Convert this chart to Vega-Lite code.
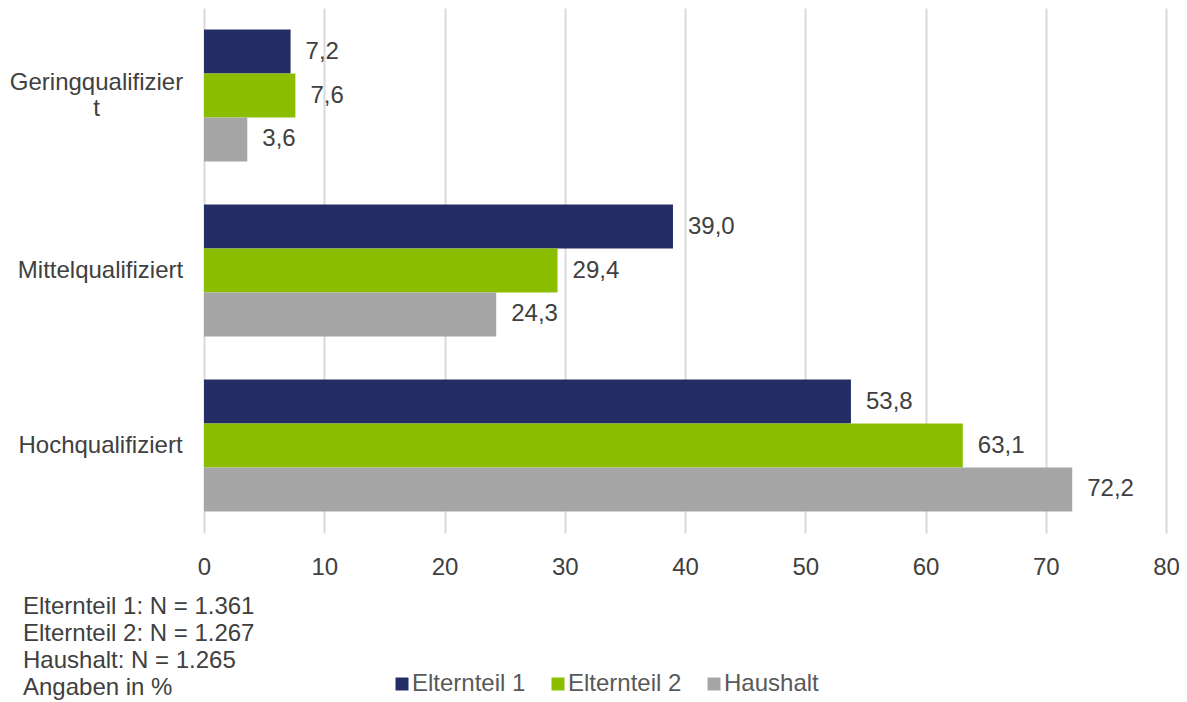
{
  "$schema": "https://vega.github.io/schema/vega-lite/v6.json",
  "width": 962,
  "height": 525,
  "autosize": {"type": "none"},
  "padding": {"left": 204, "top": 8, "right": 21, "bottom": 169},
  "background": "white",
  "title": {
    "text": ["Elternteil 1: N = 1.361", "Elternteil 2: N = 1.267", "Haushalt: N = 1.265", "Angaben in %"],
    "orient": "bottom",
    "anchor": "start",
    "frame": "group",
    "dx": -181,
    "offset": -101,
    "font": "Liberation Sans",
    "fontSize": 24,
    "fontWeight": "normal",
    "color": "#404040",
    "lineHeight": 27,
    "baseline": "top"
  },
  "data": {
    "values": [
      {"Qualifikation": "Geringqualifiziert", "Gruppe": "Elternteil 1", "Anteil": 7.2},
      {"Qualifikation": "Geringqualifiziert", "Gruppe": "Elternteil 2", "Anteil": 7.6},
      {"Qualifikation": "Geringqualifiziert", "Gruppe": "Haushalt", "Anteil": 3.6},
      {"Qualifikation": "Mittelqualifiziert", "Gruppe": "Elternteil 1", "Anteil": 39.0},
      {"Qualifikation": "Mittelqualifiziert", "Gruppe": "Elternteil 2", "Anteil": 29.4},
      {"Qualifikation": "Mittelqualifiziert", "Gruppe": "Haushalt", "Anteil": 24.3},
      {"Qualifikation": "Hochqualifiziert", "Gruppe": "Elternteil 1", "Anteil": 53.8},
      {"Qualifikation": "Hochqualifiziert", "Gruppe": "Elternteil 2", "Anteil": 63.1},
      {"Qualifikation": "Hochqualifiziert", "Gruppe": "Haushalt", "Anteil": 72.2}
    ]
  },
  "encoding": {
    "y": {
      "field": "Qualifikation",
      "type": "nominal",
      "sort": ["Geringqualifiziert", "Mittelqualifiziert", "Hochqualifiziert"],
      "scale": {"paddingInner": 0.246, "paddingOuter": 0.123},
      "axis": {
        "title": null,
        "domain": false,
        "ticks": false,
        "tickSize": 0,
        "grid": false,
        "labelAlign": "center",
        "labelBaseline": "middle",
        "labelPadding": {"condition": {"test": "datum.value == 'Geringqualifiziert'", "value": 108}, "value": 104},
        "labelOffset": {"condition": {"test": "datum.value == 'Geringqualifiziert'", "value": -13}, "value": 0},
        "labelFont": "Liberation Sans",
        "labelFontSize": 24,
        "labelColor": "#404040",
        "labelLineHeight": 26,
        "labelLimit": 400,
        "labelExpr": "datum.value == 'Geringqualifiziert' ? ['Geringqualifizier', 't'] : datum.value"
      }
    },
    "yOffset": {
      "field": "Gruppe",
      "type": "nominal",
      "sort": ["Elternteil 1", "Elternteil 2", "Haushalt"],
      "scale": {"paddingInner": 0, "paddingOuter": 0}
    },
    "x": {
      "field": "Anteil",
      "type": "quantitative",
      "scale": {"domain": [0, 80], "nice": false},
      "axis": {
        "title": null,
        "values": [0, 10, 20, 30, 40, 50, 60, 70, 80],
        "domain": false,
        "ticks": false,
        "grid": true,
        "gridColor": "#d9d9d9",
        "gridWidth": 2,
        "labelFlush": false,
        "labelPadding": 22,
        "labelFont": "Liberation Sans",
        "labelFontSize": 24,
        "labelColor": "#404040"
      }
    },
    "color": {
      "field": "Gruppe",
      "type": "nominal",
      "sort": ["Elternteil 1", "Elternteil 2", "Haushalt"],
      "scale": {
        "domain": ["Elternteil 1", "Elternteil 2", "Haushalt"],
        "range": ["#242e64", "#8cbe00", "#a6a6a6"]
      },
      "legend": {
        "title": null,
        "orient": "none",
        "legendX": 186,
        "legendY": 664,
        "direction": "horizontal",
        "symbolType": "square",
        "symbolSize": 169,
        "symbolStrokeWidth": 0,
        "labelFont": "Liberation Sans",
        "labelFontSize": 24,
        "labelColor": "#595959",
        "labelOffset": -2,
        "labelLimit": 300,
        "columnPadding": 20,
        "padding": 0
      }
    }
  },
  "layer": [
    {"mark": {"type": "bar"}},
    {
      "mark": {
        "type": "text",
        "align": "left",
        "baseline": "middle",
        "dx": 15,
        "font": "Liberation Sans",
        "fontSize": 24
      },
      "encoding": {
        "text": {"field": "Anteil", "type": "quantitative", "format": ".1f"},
        "color": {"value": "#404040"}
      }
    }
  ],
  "config": {
    "view": {"stroke": null},
    "locale": {
      "number": {"decimal": ",", "thousands": ".", "grouping": [3], "currency": ["", " €"]}
    }
  }
}
